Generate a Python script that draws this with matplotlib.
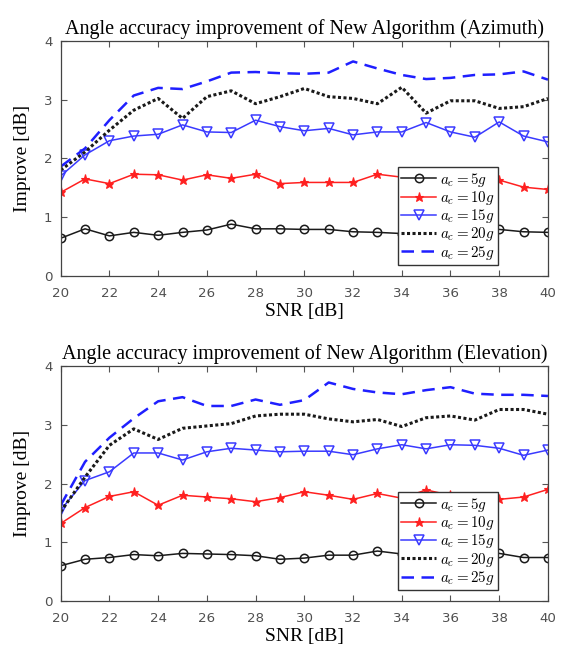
#!/usr/bin/env python3
"""Angle accuracy improvement of the new algorithm vs SNR, azimuth and elevation."""
import matplotlib
matplotlib.use("Agg")
import matplotlib.pyplot as plt

SNR = list(range(20, 41))
LABELS = [r"$a_c = 5g$", r"$a_c = 10g$", r"$a_c = 15g$", r"$a_c = 20g$", r"$a_c = 25g$"]

# azimuth
az_5g = [0.64, 0.80, 0.68, 0.74, 0.69, 0.74, 0.78, 0.88, 0.80, 0.80, 0.79,
         0.79, 0.75, 0.74, 0.72, 0.76, 0.78, 0.80, 0.79, 0.75, 0.74]
az_10g = [1.42, 1.65, 1.57, 1.73, 1.72, 1.63, 1.72, 1.66, 1.73, 1.57, 1.59,
          1.59, 1.59, 1.73, 1.68, 1.66, 1.70, 1.72, 1.63, 1.51, 1.47]
az_15g = [1.70, 2.06, 2.30, 2.38, 2.41, 2.57, 2.45, 2.44, 2.65, 2.54, 2.47,
          2.51, 2.40, 2.45, 2.45, 2.61, 2.45, 2.36, 2.62, 2.38, 2.28]
az_20g = [1.80, 2.11, 2.48, 2.82, 3.02, 2.68, 3.05, 3.15, 2.93, 3.05, 3.19,
          3.05, 3.02, 2.93, 3.21, 2.77, 2.98, 2.98, 2.85, 2.88, 3.02]
az_25g = [1.86, 2.17, 2.65, 3.07, 3.20, 3.18, 3.31, 3.46, 3.47, 3.45, 3.44,
          3.46, 3.65, 3.53, 3.42, 3.35, 3.37, 3.42, 3.43, 3.48, 3.34]

# elevation
el_5g = [0.60, 0.71, 0.74, 0.79, 0.77, 0.81, 0.80, 0.79, 0.77, 0.71, 0.73,
         0.78, 0.78, 0.85, 0.80, 0.82, 0.80, 0.82, 0.81, 0.74, 0.74]
el_10g = [1.32, 1.59, 1.78, 1.86, 1.63, 1.80, 1.77, 1.74, 1.69, 1.76, 1.86,
          1.80, 1.73, 1.83, 1.75, 1.89, 1.80, 1.75, 1.73, 1.77, 1.90]
el_15g = [1.55, 2.05, 2.20, 2.52, 2.52, 2.40, 2.54, 2.60, 2.57, 2.54, 2.55,
          2.55, 2.49, 2.59, 2.66, 2.59, 2.66, 2.65, 2.60, 2.48, 2.57]
el_20g = [1.52, 2.11, 2.65, 2.93, 2.75, 2.94, 2.98, 3.02, 3.15, 3.18, 3.18,
          3.10, 3.05, 3.09, 2.97, 3.12, 3.15, 3.08, 3.26, 3.26, 3.18]
el_25g = [1.63, 2.37, 2.78, 3.11, 3.40, 3.47, 3.32, 3.32, 3.43, 3.34, 3.42,
          3.72, 3.61, 3.55, 3.52, 3.59, 3.64, 3.53, 3.51, 3.51, 3.49]

SERIF = "Liberation Serif"


def panel(ax, series, title):
    s5, s10, s15, s20, s25 = series
    ax.plot(SNR, s5, color="#1a1a1a", lw=1.1, marker="o", ms=6, mfc="none", mew=1.1)
    ax.plot(SNR, s10, color="#ff2020", lw=1.1, marker="*", ms=6.5, mew=0.8)
    ax.plot(SNR, s15, color="#3a3aff", lw=1.1, marker="v", ms=6.5, mfc="none", mew=1.1)
    ax.plot(SNR, s20, color="#1a1a1a", lw=2.2, ls=(0, (1, 0.8)))
    ax.plot(SNR, s25, color="#1f1fff", lw=1.8, ls=(0, (5, 3)))

    ax.set_xlim(20, 40)
    ax.set_ylim(0, 4)
    ax.set_xticks(range(20, 41, 2))
    ax.set_yticks(range(0, 5))
    ax.tick_params(direction="in", top=True, right=True, length=4, width=0.8,
                   labelsize=9.6, labelcolor="#505050", color="#555555")
    ax.tick_params(axis="x", pad=8)
    ax.tick_params(axis="y", pad=6)
    for sp in ax.spines.values():
        sp.set_color("#444444")
        sp.set_linewidth(0.9)
    ax.set_title(title, family=SERIF, fontsize=14.5, pad=5)
    ax.set_xlabel("SNR [dB]", family=SERIF, fontsize=14, labelpad=2)
    ax.set_ylabel("Improve [dB]", family=SERIF, fontsize=14, labelpad=9)
    leg = ax.legend(LABELS, loc="lower right", bbox_to_anchor=(0.898, 0.046),
                    fontsize=10.8, handlelength=2.3, handletextpad=0.3,
                    labelspacing=0.02, borderpad=0.22, borderaxespad=0,
                    fancybox=False, framealpha=1, edgecolor="#333333")
    leg.get_frame().set_linewidth(1.0)


def main():
    plt.rcParams["mathtext.fontset"] = "cm"
    fig = plt.figure(figsize=(5.62, 6.49), dpi=100)
    ax1 = fig.add_axes([0.108, 0.575, 0.867, 0.362])
    ax2 = fig.add_axes([0.108, 0.074, 0.867, 0.362])
    panel(ax1, (az_5g, az_10g, az_15g, az_20g, az_25g),
          "Angle accuracy improvement of New Algorithm (Azimuth)")
    panel(ax2, (el_5g, el_10g, el_15g, el_20g, el_25g),
          "Angle accuracy improvement of New Algorithm (Elevation)")
    fig.savefig("out.png", dpi=100)


if __name__ == "__main__":
    main()
